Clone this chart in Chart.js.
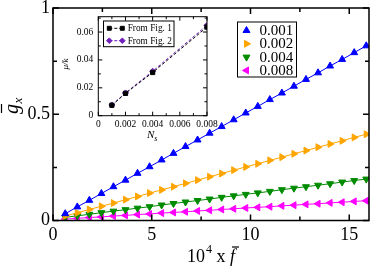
<!DOCTYPE html>
<html><head><meta charset="utf-8">
<script src="https://cdn.jsdelivr.net/npm/chart.js@4/dist/chart.umd.min.js"></script>
<style>
html,body{margin:0;padding:0;background:#fff;}
#wrap{position:relative;width:374px;height:267px;overflow:hidden;}
#main{position:absolute;left:0;top:0;}
#inset{position:absolute;left:55px;top:5px;}
</style></head><body>
<div id="wrap"><canvas id="main" width="374" height="267"></canvas><canvas id="inset" width="165" height="140"></canvas></div>
<script>
// ---------- main chart data ----------
const fbar = [0.62,1.23,1.84,2.45,3.06,3.67,4.28,4.89,5.50,6.10,6.71,7.32,7.93,8.54,9.15,9.76,10.37,10.98,11.59,12.20,12.81,13.42,14.03,14.64,15.25,15.86];
const g001 = [0.032,0.064,0.095,0.127,0.159,0.190,0.222,0.253,0.285,0.316,0.348,0.379,0.411,0.442,0.474,0.506,0.537,0.569,0.600,0.632,0.664,0.695,0.727,0.758,0.790,0.822];
const g002 = [0.021,0.036,0.052,0.067,0.082,0.098,0.113,0.129,0.144,0.159,0.175,0.190,0.206,0.221,0.237,0.252,0.267,0.283,0.298,0.314,0.329,0.345,0.360,0.375,0.391,0.406];
const g004 = [0.015,0.022,0.029,0.037,0.044,0.051,0.058,0.065,0.073,0.080,0.087,0.094,0.101,0.109,0.116,0.123,0.130,0.137,0.145,0.152,0.159,0.166,0.173,0.181,0.188,0.195];
const g008 = [0.007,0.010,0.014,0.017,0.021,0.024,0.028,0.031,0.035,0.038,0.041,0.045,0.048,0.052,0.055,0.059,0.062,0.065,0.069,0.072,0.076,0.079,0.083,0.086,0.090,0.093];
const seriesLabels = ['0.001','0.002','0.004','0.008'];
const xTicksMain = [0,5,10,15];
const xMinorMain = [2.5,7.5,12.5];
const yTicksMain = [0,0.5,1];
const yMinorMain = [0.25,0.75];

// ---------- inset data ----------
const Ns = [0.001,0.002,0.004,0.008];
const muFig1 = [0.0075,0.0160,0.0310,0.0636];
const muFig2 = [0.0077,0.0163,0.0319,0.0648];
const insetLabels = ['From Fig. 1','From Fig. 2'];
const xTicksInset = [0,0.002,0.004,0.006,0.008];
const xMinorInset = [0.001,0.003,0.005,0.007];
const yTicksInset = [0,0.02,0.04,0.06];
const yMinorInset = [0.01,0.03,0.05,0.07];

const SERIF = '"Liberation Serif","Times New Roman",serif';

function drawMarker(ctx, style, rot, r, x, y, color) {
  ctx.save();
  ctx.fillStyle = color; ctx.strokeStyle = color; ctx.lineWidth = 1;
  if (Chart.helpers && Chart.helpers.drawPoint) {
    Chart.helpers.drawPoint(ctx, {pointStyle: style, rotation: rot, radius: r, borderWidth: 1}, x, y);
  } else {
    ctx.beginPath(); ctx.arc(x, y, r, 0, Math.PI*2); ctx.fill();
  }
  ctx.restore();
}

const framePlugin = {
  id: 'frame',
  afterDraw(chart, args, o) {
    const {ctx, chartArea: a} = chart;
    const xs = chart.scales.x, ys = chart.scales.y;
    ctx.save();
    ctx.strokeStyle = '#000'; ctx.lineWidth = o.lw;
    ctx.strokeRect(a.left, a.top, a.right - a.left, a.bottom - a.top);
    ctx.beginPath();
    const tx = (vals, len) => vals.forEach(v => { const p = xs.getPixelForValue(v);
      ctx.moveTo(p, a.bottom); ctx.lineTo(p, a.bottom - len); ctx.moveTo(p, a.top); ctx.lineTo(p, a.top + len); });
    const ty = (vals, len) => vals.forEach(v => { const p = ys.getPixelForValue(v);
      ctx.moveTo(a.left, p); ctx.lineTo(a.left + len, p); ctx.moveTo(a.right, p); ctx.lineTo(a.right - len, p); });
    tx(xs.ticks.map(t => t.value), o.major); tx(o.xMinor, o.minor);
    ty(ys.ticks.map(t => t.value), o.major); ty(o.yMinor, o.minor);
    ctx.stroke();
    ctx.restore();
  }
};

// ---------------- MAIN CHART ----------------
const mainStyles = [
  {c: '#0000ff', rot: 0}, {c: '#ffa500', rot: 90}, {c: '#008b00', rot: 180}, {c: '#ff00ff', rot: 270}
];
const mainSeries = [g001, g002, g004, g008];

const mainLegendPlugin = {
  id: 'boxLegend',
  afterDraw(chart) {
    const ctx = chart.ctx;
    ctx.save();
    ctx.fillStyle = '#fff'; ctx.fillRect(237.5, 22, 59, 55);
    ctx.strokeStyle = '#000'; ctx.lineWidth = 1; ctx.strokeRect(237.5, 22, 59, 55);
    chart.data.datasets.forEach((ds, i) => {
      const yy = 30.5 + i * 13.3;
      drawMarker(ctx, 'triangle', mainStyles[i].rot, 4, 246.5, yy, ds.borderColor);
      ctx.fillStyle = '#000'; ctx.font = '15px ' + SERIF;
      ctx.textBaseline = 'middle'; ctx.textAlign = 'left';
      ctx.fillText(ds.label, 259.5, yy + 0.5);
    });
    ctx.restore();
  }
};

const mainTitlePlugin = {
  id: 'mainTitles',
  afterDraw(chart) {
    const ctx = chart.ctx;
    ctx.save();
    ctx.fillStyle = '#000'; ctx.strokeStyle = '#000'; ctx.textBaseline = 'alphabetic'; ctx.textAlign = 'left';
    // y title: g-bar with subscript x, rotated
    ctx.translate(14, 108); ctx.rotate(-Math.PI / 2);
    ctx.font = 'italic 20px ' + SERIF;
    ctx.fillText('g', -6, 4);
    const gw = ctx.measureText('g').width;
    ctx.font = 'italic 13px ' + SERIF;
    ctx.fillText('x', -6 + gw + 0.5, 8);
    ctx.lineWidth = 1.2; ctx.beginPath(); ctx.moveTo(-5, -12.5); ctx.lineTo(-6 + gw, -12.5); ctx.stroke();
    ctx.setTransform(1, 0, 0, 1, 0, 0);
    // x title: 10^4 x f-bar
    let x0 = 187, base = 261.5;
    ctx.font = '18px ' + SERIF; ctx.fillText('10', x0, base); x0 += ctx.measureText('10').width + 1;
    ctx.font = '12px ' + SERIF; ctx.fillText('4', x0, base - 9); x0 += ctx.measureText('4').width;
    ctx.font = '18px ' + SERIF; ctx.fillText(' x ', x0, base); x0 += ctx.measureText(' x ').width;
    ctx.font = 'italic 18px ' + SERIF; ctx.fillText('f', x0, base);
    const fw = ctx.measureText('f').width;
    ctx.lineWidth = 1.2; ctx.beginPath(); ctx.moveTo(x0 + 2, 247); ctx.lineTo(x0 + fw + 4, 247); ctx.stroke();
    ctx.restore();
  }
};

new Chart(document.getElementById('main'), {
  type: 'line',
  data: {
    datasets: mainSeries.map((s, i) => ({
      label: seriesLabels[i],
      data: fbar.map((x, j) => ({x: x, y: s[j]})),
      borderColor: mainStyles[i].c, backgroundColor: mainStyles[i].c,
      borderWidth: 1, tension: 0, fill: false,
      pointStyle: 'triangle', pointRotation: mainStyles[i].rot, pointRadius: 4, pointBorderWidth: 1,
      pointBackgroundColor: mainStyles[i].c, pointBorderColor: mainStyles[i].c
    }))
  },
  options: {
    responsive: false, animation: false, devicePixelRatio: 1, events: [],
    layout: {padding: {left: 0, right: 2, top: 8, bottom: 0}},
    plugins: {
      legend: {display: false}, tooltip: {enabled: false},
      frame: {lw: 1.5, major: 6, minor: 4, xMinor: xMinorMain, yMinor: yMinorMain}
    },
    scales: {
      x: {
        type: 'linear', min: 0, max: 16,
        afterBuildTicks: s => { s.ticks = xTicksMain.map(v => ({value: v})); },
        afterFit: s => { s.height = 46.5; s.paddingLeft = 0; s.paddingRight = 0; },
        grid: {display: false, drawTicks: false}, border: {display: false},
        ticks: {color: '#000', font: {family: SERIF, size: 18}, padding: 4, maxRotation: 0,
                callback: v => String(v)}
      },
      y: {
        type: 'linear', min: 0, max: 1,
        afterBuildTicks: s => { s.ticks = yTicksMain.map(v => ({value: v})); },
        afterFit: s => { s.width = 53; s.paddingTop = 0; s.paddingBottom = 0; },
        grid: {display: false, drawTicks: false}, border: {display: false},
        ticks: {color: '#000', font: {family: SERIF, size: 18}, padding: 3,
                callback: v => String(v)}
      }
    }
  },
  plugins: [framePlugin, mainLegendPlugin, mainTitlePlugin]
});

// ---------------- INSET CHART ----------------
const insetColors = ['#000000', '#7221bc'];
const insetStyles = ['rect', 'rectRot'];
const insetSeries = [muFig1, muFig2];

const insetLegendPlugin = {
  id: 'insetLegend',
  afterDraw(chart) {
    const ctx = chart.ctx;
    ctx.save();
    ctx.fillStyle = '#fff'; ctx.fillRect(48.5, 16, 70.5, 25.7);
    ctx.strokeStyle = '#000'; ctx.lineWidth = 1; ctx.strokeRect(48.5, 16, 70.5, 25.7);
    chart.data.datasets.forEach((ds, i) => {
      const yy = 23.3 + i * 12.4;
      ctx.strokeStyle = ds.borderColor; ctx.lineWidth = 1; ctx.setLineDash([3, 2]);
      ctx.beginPath(); ctx.moveTo(54.3, yy); ctx.lineTo(67.3, yy); ctx.stroke(); ctx.setLineDash([]);
      drawMarker(ctx, insetStyles[i], 0, 2.8, 54.3, yy, ds.borderColor);
      drawMarker(ctx, insetStyles[i], 0, 2.8, 67.3, yy, ds.borderColor);
      ctx.fillStyle = '#000'; ctx.font = '9.3px ' + SERIF;
      ctx.textBaseline = 'middle'; ctx.textAlign = 'left';
      ctx.fillText(ds.label, 72.7, yy + 0.5);
    });
    ctx.restore();
  }
};

const insetTitlePlugin = {
  id: 'insetTitles',
  afterDraw(chart) {
    const ctx = chart.ctx;
    ctx.save();
    ctx.fillStyle = '#000'; ctx.textBaseline = 'alphabetic'; ctx.textAlign = 'left';
    // x title N_s
    ctx.font = 'italic 11px ' + SERIF;
    const nw = ctx.measureText('N').width;
    ctx.fillText('N', 92, 133);
    ctx.font = 'italic 8px ' + SERIF;
    ctx.fillText('s', 92 + nw, 136);
    // y title mu/k rotated
    ctx.translate(13, 59); ctx.rotate(-Math.PI / 2);
    ctx.font = 'italic 9px ' + SERIF; ctx.textAlign = 'center';
    ctx.fillText('\u03bc/k', 0, 0);
    ctx.restore();
  }
};

const insetBg = {
  id: 'insetBg',
  beforeDraw(chart) {
    const {ctx, chartArea: a} = chart;
    ctx.save(); ctx.fillStyle = '#fff';
    ctx.fillRect(a.left, a.top, a.right - a.left, a.bottom - a.top);
    ctx.restore();
  }
};

new Chart(document.getElementById('inset'), {
  type: 'line',
  data: {
    datasets: insetSeries.map((s, i) => ({
      label: insetLabels[i],
      data: Ns.map((x, j) => ({x: x, y: s[j]})),
      borderColor: insetColors[i], backgroundColor: insetColors[i],
      borderWidth: 1, borderDash: [3, 2], tension: 0, fill: false,
      pointStyle: insetStyles[i], pointRadius: 3, pointBorderWidth: 1,
      pointBackgroundColor: insetColors[i], pointBorderColor: insetColors[i]
    }))
  },
  options: {
    responsive: false, animation: false, devicePixelRatio: 1, events: [],
    layout: {padding: {left: 0, right: 13, top: 11.7, bottom: 0}},
    plugins: {
      legend: {display: false}, tooltip: {enabled: false},
      frame: {lw: 1, major: 4, minor: 2.5, xMinor: xMinorInset, yMinor: yMinorInset}
    },
    scales: {
      x: {
        type: 'linear', min: 0, max: 0.008,
        afterBuildTicks: s => { s.ticks = xTicksInset.map(v => ({value: v})); },
        afterFit: s => { s.height = 29.3; s.paddingLeft = 0; s.paddingRight = 0; },
        grid: {display: false, drawTicks: false}, border: {display: false},
        ticks: {color: '#000', font: {family: SERIF, size: 9.5}, padding: 3, maxRotation: 0, autoSkip: false,
                callback: v => String(+v.toFixed(6))}
      },
      y: {
        type: 'linear', min: 0, max: 0.071,
        afterBuildTicks: s => { s.ticks = yTicksInset.map(v => ({value: v})); },
        afterFit: s => { s.width = 43.3; s.paddingTop = 0; s.paddingBottom = 0; },
        grid: {display: false, drawTicks: false}, border: {display: false},
        ticks: {color: '#000', font: {family: SERIF, size: 9.5}, padding: 5,
                callback: v => String(+v.toFixed(6))}
      }
    }
  },
  plugins: [insetBg, framePlugin, insetLegendPlugin, insetTitlePlugin]
});
</script>
</body></html>
